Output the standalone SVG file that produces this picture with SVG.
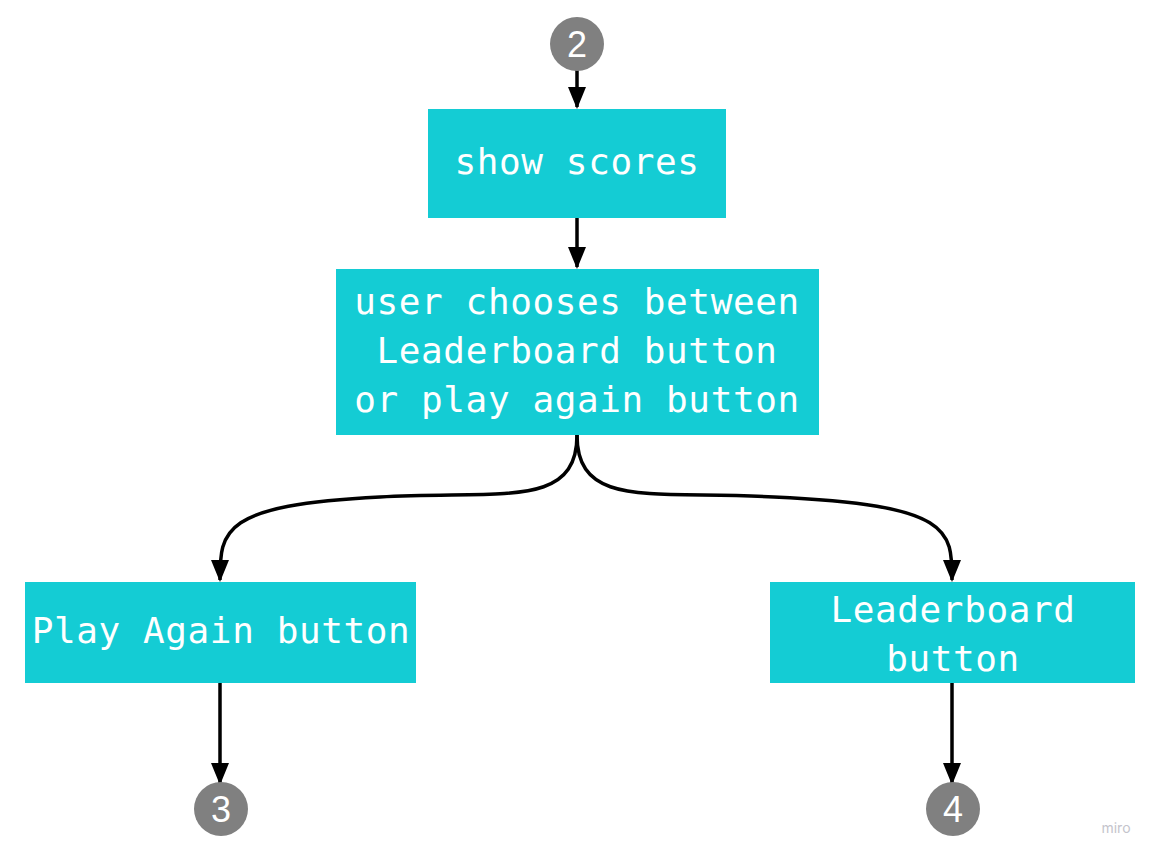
<svg xmlns="http://www.w3.org/2000/svg" width="1161" height="860" viewBox="0 0 1161 860">
<style>
.box{fill:#14ccd4}
.t{font-family:"DejaVu Sans Mono","Liberation Mono",monospace;font-size:36px;letter-spacing:0.6px;fill:#ffffff;text-anchor:middle}
.c{fill:#808080}
.n{font-family:"Liberation Sans",Arial,sans-serif;font-size:36px;fill:#ffffff;text-anchor:middle}
.e{fill:none;stroke:#000;stroke-width:3.5}
</style>
<defs>
<marker id="ah" markerUnits="userSpaceOnUse" markerWidth="22" markerHeight="18" refX="20" refY="9" orient="auto" viewBox="0 0 22 18">
<path d="M0,0 L22,9 L0,18 z" fill="#000"/>
</marker>
</defs>
<rect width="1161" height="860" fill="#fff"/>
<g id="connectors">
<path class="e" d="M577,70 L577,107" marker-end="url(#ah)"/>
<path class="e" d="M577,218 L577,267" marker-end="url(#ah)"/>
<path class="e" d="M577,435 C577,510 500,490 380,497 C222,505 220,530 220,580" marker-end="url(#ah)"/>
<path class="e" d="M577,435 C577,510 654,490 774,497 C952,505 952,530 952,580" marker-end="url(#ah)"/>
<path class="e" d="M220,683 L220,783" marker-end="url(#ah)"/>
<path class="e" d="M952,683 L952,783" marker-end="url(#ah)"/>
</g>
<g id="c2"><circle class="c" cx="577" cy="44" r="27"/><text class="n" x="577" y="57">2</text></g>
<g id="show-scores"><rect class="box" x="428" y="109" width="298" height="109"/><text class="t" x="577" y="174">show scores</text></g>
<g id="user-chooses"><rect class="box" x="336" y="269" width="483" height="166"/>
<text class="t" x="577" y="314">user chooses between</text>
<text class="t" x="577" y="363">Leaderboard button</text>
<text class="t" x="577" y="412">or play again button</text></g>
<g id="play-again"><rect class="box" x="25" y="582" width="391" height="101"/><text class="t" x="221" y="643">Play Again button</text></g>
<g id="leaderboard"><rect class="box" x="770" y="582" width="365" height="101"/>
<text class="t" x="953" y="622">Leaderboard</text>
<text class="t" x="953" y="671">button</text></g>
<g id="c3"><circle class="c" cx="221" cy="809" r="27"/><text class="n" x="221" y="822">3</text></g>
<g id="c4"><circle class="c" cx="953" cy="809" r="27"/><text class="n" x="953" y="822">4</text></g>
<text x="1116" y="833" font-family="Inter,'Liberation Sans',sans-serif" font-size="14" fill="#c4c4cc" text-anchor="middle">miro</text>
</svg>
